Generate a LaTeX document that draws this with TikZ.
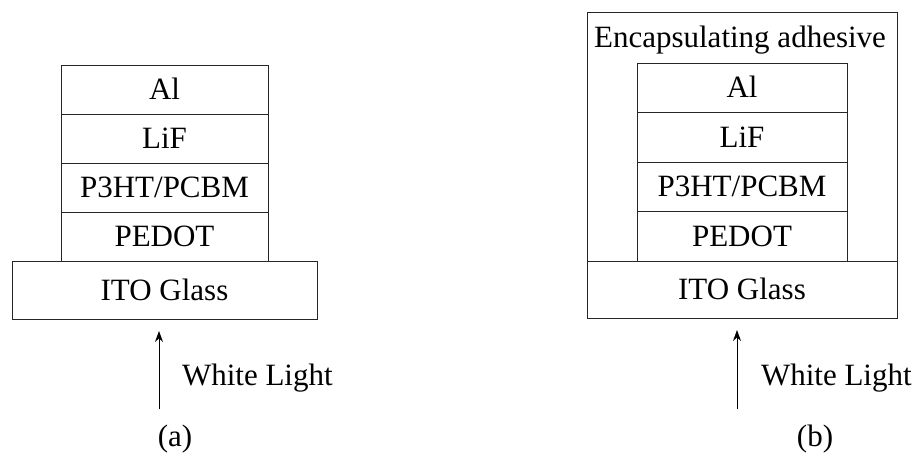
\documentclass[tikz,border=0pt]{standalone}
\usepackage{fontspec}
\setmainfont{Liberation Serif}
\usetikzlibrary{positioning, arrows.meta}
\tikzstyle{arrow} = [line width=1pt,-{Stealth[length=11pt,width=8pt]}]

\begin{document}
\begin{tikzpicture}[
    x=1pt, y=-1pt,
    every node/.style={font=\fontsize{31}{36}\selectfont, align=center, inner sep=0pt, outer sep=0pt},
    layer/.style={rectangle, draw=black!85, line width=0.9pt, minimum width=207pt, minimum height=49pt, fill=white, text height=20pt, text depth=0pt},
    glass/.style={layer, minimum width=305pt, minimum height=58pt},
    shell/.style={rectangle, draw=black!85, line width=0.9pt, fill=white}
]
    \useasboundingbox (0,0) rectangle (917,454);

    % (a) bare cell
    \node[glass] (itoA) at (164.5,290) {ITO Glass};
    \node[layer, above=0pt of itoA] (pedotA) {PEDOT};
    \node[layer, above=0pt of pedotA] (blendA) {P3HT/PCBM};
    \node[layer, above=0pt of blendA] (lifA) {LiF};
    \node[layer, above=0pt of lifA] (alA) {Al};

    % (b) encapsulated cell
    \node[shell, minimum width=310pt, minimum height=306pt] (encapB) at (742,165) {};
    \node[anchor=base] (adhesiveB) at (740,48) {Encapsulating adhesive};
    \node[glass, minimum width=310pt, minimum height=57pt] (itoB) at (742,289.5) {ITO Glass};
    \node[layer, minimum width=210pt, minimum height=49.5pt, above=0pt of itoB] (pedotB) {PEDOT};
    \node[layer, minimum width=210pt, minimum height=49.5pt, above=0pt of pedotB] (blendB) {P3HT/PCBM};
    \node[layer, minimum width=210pt, minimum height=49.5pt, above=0pt of blendB] (lifB) {LiF};
    \node[layer, minimum width=210pt, minimum height=49.5pt, above=0pt of lifB] (alB) {Al};

    % Illumination
    \coordinate (srcA) at (159,409);
    \coordinate (srcB) at (737,409);
    \draw[arrow, shorten >=12pt] (srcA) -- (srcA |- itoA.south);
    \draw[arrow, shorten >=12pt] (srcB) -- (srcB |- itoB.south);
    \node[anchor=base west] (lightA) at (182,385) {White Light};
    \node[anchor=base west] (lightB) at (761,385) {White Light};

    % Captions
    \node[anchor=base] (capA) at (175,446) {(a)};
    \node[anchor=base] (capB) at (815,446) {(b)};
\end{tikzpicture}
\end{document}
